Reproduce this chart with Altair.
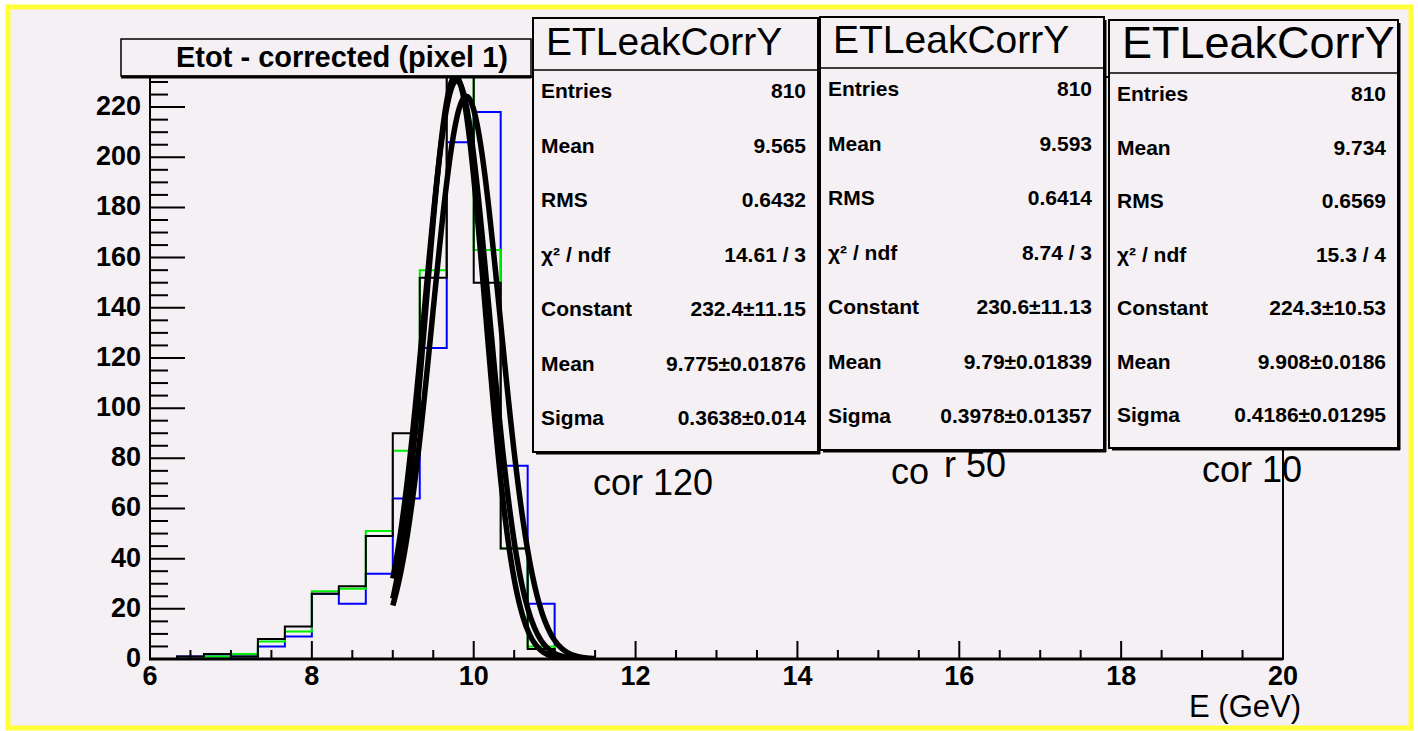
import altair as alt
import numpy as np
import pandas as pd

# ---------------------------------------------------------------------------
# Histogram definition: 42 bins of 1/3 GeV over 6-20 GeV
# ---------------------------------------------------------------------------
x_lo, x_hi, n_bins = 6.0, 20.0, 42
y_max = 232.0

# bin contents from 6.0 GeV upward (every later bin is empty)
counts_cor120 = [0, 1, 2, 1, 8, 13, 26, 29, 49, 90, 152, 241, 150, 44, 4, 0]
counts_cor50 = [0, 0, 1, 2, 7, 11, 27, 28, 51, 83, 155, 233, 163, 44, 5, 0]
counts_cor10 = [0, 1, 1, 1, 5, 9, 26, 22, 34, 64, 124, 206, 218, 77, 22, 0]

series_names = ["cor 120", "cor 50", "cor 10"]
series_colors = ["#000000", "#00ee00", "#0000ff"]

# statistics and gaussian fit results, one entry per histogram
entries = [810, 810, 810]
hist_mean = ["9.565", "9.593", "9.734"]
hist_rms = ["0.6432", "0.6414", "0.6569"]
chi2_ndf = ["14.61 / 3", "8.74 / 3", "15.3 / 4"]
fit_const = [232.4, 230.6, 224.3]
fit_const_err = ["11.15", "11.13", "10.53"]
fit_mean = [9.775, 9.79, 9.908]
fit_mean_err = ["0.01876", "0.01839", "0.0186"]
fit_sigma = [0.3638, 0.3978, 0.4186]
fit_sigma_err = ["0.014", "0.01357", "0.01295"]
fit_range = [9.0, 11.5]

stat_labels = ["Entries", "Mean", "RMS", "χ² / ndf", "Constant", "Mean", "Sigma"]
stats_title = "ETLeakCorrY"
hist_title = "Etot - corrected (pixel 1)"
x_title = "E (GeV)"

x_major = list(range(6, 21, 2))
y_major = list(range(0, 221, 20))

# ---------------------------------------------------------------------------
# Canvas layout (pixels)
# ---------------------------------------------------------------------------
OX, OY = 150, 77          # top-left corner of the frame
W, H = 1133, 582          # frame size
CANVAS = "#f4f0f4"
FONT = "Liberation Sans"


def px(x):
    return x - OX


def py(y):
    return y - OY


one = pd.DataFrame({"k": [0]})
xs = alt.Scale(domain=[x_lo, x_hi], nice=False, zero=False)
ys = alt.Scale(domain=[0, y_max], nice=False, zero=False)

# ---------------------------------------------------------------------------
# Data tables
# ---------------------------------------------------------------------------
bw = (x_hi - x_lo) / n_bins
hist_rows = []
for name, counts in zip(series_names, [counts_cor120, counts_cor50, counts_cor10]):
    full = counts + [0] * (n_bins - len(counts))
    for i, c in enumerate(full):
        hist_rows.append({"series": name, "edge": x_lo + i * bw, "n": c, "o": i})
    hist_rows.append({"series": name, "edge": x_hi, "n": 0, "o": n_bins})
hist_df = pd.DataFrame(hist_rows)

fit_rows = []
grid = np.linspace(fit_range[0], fit_range[1], 251)
for name, c, m, s in zip(series_names, fit_const, fit_mean, fit_sigma):
    for j, x in enumerate(grid):
        fit_rows.append({"series": name, "x": x, "f": c * np.exp(-0.5 * ((x - m) / s) ** 2), "o": j})
fit_df = pd.DataFrame(fit_rows)

x_minor = [v / 2 for v in range(12, 41) if v % 4 != 0]
y_minor = [v for v in range(0, 231, 5) if v % 20 != 0]

# ---------------------------------------------------------------------------
# Layers
# ---------------------------------------------------------------------------
layers = []

# canvas with yellow border
layers.append(
    alt.Chart(one).mark_rect(fill=CANVAS, stroke="#ffff3a", strokeWidth=5).encode(
        x=alt.value(px(8)), x2=alt.value(px(1411)), y=alt.value(py(7)), y2=alt.value(py(728))
    )
)

# histograms (drawn blue, green, black)
for name, color in list(zip(series_names, series_colors))[::-1]:
    layers.append(
        alt.Chart(hist_df[hist_df.series == name])
        .mark_line(interpolate="step-after", color=color, strokeWidth=2, clip=True)
        .encode(
            x=alt.X("edge:Q", scale=xs, axis=None),
            y=alt.Y("n:Q", scale=ys, axis=None),
            order="o:Q",
        )
    )

# gaussian fits
for name in series_names:
    layers.append(
        alt.Chart(fit_df[fit_df.series == name])
        .mark_line(color="black", strokeWidth=5.5, clip=True)
        .encode(
            x=alt.X("x:Q", scale=xs, axis=None),
            y=alt.Y("f:Q", scale=ys, axis=None),
            order="o:Q",
        )
    )

# frame
layers.append(
    alt.Chart(one).mark_rect(fillOpacity=0, stroke="black", strokeWidth=2).encode(
        x=alt.value(0), x2=alt.value(W), y=alt.value(0), y2=alt.value(H)
    )
)
layers.append(
    alt.Chart(one).mark_rule(color="black", strokeWidth=3).encode(
        x=alt.value(-1), x2=alt.value(W), y=alt.value(H), y2=alt.value(H)
    )
)

# inward ticks
layers.append(
    alt.Chart(pd.DataFrame({"v": x_major})).mark_rule(color="black", strokeWidth=2).encode(
        x=alt.X("v:Q", scale=xs, axis=None), y=alt.value(H), y2=alt.value(H - 18)
    )
)
layers.append(
    alt.Chart(pd.DataFrame({"v": x_minor})).mark_rule(color="black", strokeWidth=2).encode(
        x=alt.X("v:Q", scale=xs, axis=None), y=alt.value(H), y2=alt.value(H - 9)
    )
)
layers.append(
    alt.Chart(pd.DataFrame({"v": y_major})).mark_rule(color="black", strokeWidth=2).encode(
        y=alt.Y("v:Q", scale=ys, axis=None), x=alt.value(0), x2=alt.value(35)
    )
)
layers.append(
    alt.Chart(pd.DataFrame({"v": y_minor})).mark_rule(color="black", strokeWidth=2).encode(
        y=alt.Y("v:Q", scale=ys, axis=None), x=alt.value(0), x2=alt.value(18)
    )
)

# tick labels
layers.append(
    alt.Chart(pd.DataFrame({"v": x_major})).mark_text(
        font=FONT, fontSize=27, fontWeight="bold", align="center", baseline="top", color="black"
    ).encode(x=alt.X("v:Q", scale=xs, axis=None), y=alt.value(H + 5), text=alt.Text("v:Q", format="d"))
)
layers.append(
    alt.Chart(pd.DataFrame({"v": y_major})).mark_text(
        font=FONT, fontSize=27, fontWeight="bold", align="right", baseline="middle", color="black"
    ).encode(y=alt.Y("v:Q", scale=ys, axis=None), x=alt.value(-9), text=alt.Text("v:Q", format="d"))
)

# x axis title
layers.append(
    alt.Chart(one).mark_text(
        text=x_title, font=FONT, fontSize=31, align="right", baseline="alphabetic", color="black"
    ).encode(x=alt.value(px(1301)), y=alt.value(py(717)))
)

# histogram title box
layers.append(
    alt.Chart(one).mark_rect(fill=CANVAS, stroke="black", strokeWidth=1.5).encode(
        x=alt.value(px(121)), x2=alt.value(px(531)), y=alt.value(py(39)), y2=alt.value(py(76))
    )
)
layers.append(
    alt.Chart(one).mark_rule(color="black", strokeWidth=3).encode(
        x=alt.value(px(121)), x2=alt.value(px(531)), y=alt.value(py(77)), y2=alt.value(py(77))
    )
)
layers.append(
    alt.Chart(one).mark_text(
        text=hist_title, font=FONT, fontSize=29, fontWeight="bold", align="center",
        baseline="alphabetic", color="black"
    ).encode(x=alt.value(px(342)), y=alt.value(py(67)))
)

# statistics boxes: (left, right, top, divider, bottom, title size)
boxes = [
    (533, 818, 18, 70, 452, 39),
    (820, 1104, 17, 68, 450, 39),
    (1109, 1398, 20, 73, 448, 45),
]
for i, (x0, x1, y0, yd, y1, tsize) in enumerate(boxes):
    layers.append(
        alt.Chart(one).mark_rect(fill=CANVAS, stroke="black", strokeWidth=2).encode(
            x=alt.value(px(x0)), x2=alt.value(px(x1)), y=alt.value(py(y0)), y2=alt.value(py(y1))
        )
    )
    # shadow on the right and bottom edges
    layers.append(
        alt.Chart(one).mark_rule(color="black", strokeWidth=3).encode(
            x=alt.value(px(x1 + 1)), x2=alt.value(px(x1 + 1)), y=alt.value(py(y0 + 3)), y2=alt.value(py(y1 + 2))
        )
    )
    layers.append(
        alt.Chart(one).mark_rule(color="black", strokeWidth=3).encode(
            x=alt.value(px(x0 + 3)), x2=alt.value(px(x1 + 2)), y=alt.value(py(y1 + 1)), y2=alt.value(py(y1 + 1))
        )
    )
    layers.append(
        alt.Chart(one).mark_rule(color="black", strokeWidth=1.5).encode(
            x=alt.value(px(x0)), x2=alt.value(px(x1)), y=alt.value(py(yd)), y2=alt.value(py(yd))
        )
    )
    layers.append(
        alt.Chart(one).mark_text(
            text=stats_title, font=FONT, fontSize=tsize, align="left", baseline="alphabetic", color="black"
        ).encode(x=alt.value(px(x0 + 13)), y=alt.value(py(yd - 15)))
    )
    values = [
        str(entries[i]),
        hist_mean[i],
        hist_rms[i],
        chi2_ndf[i],
        f"{fit_const[i]}±{fit_const_err[i]}",
        f"{fit_mean[i]}±{fit_mean_err[i]}",
        f"{fit_sigma[i]}±{fit_sigma_err[i]}",
    ]
    step = (y1 - yd) / 7
    first = yd + 22
    layers.append(
        alt.Chart(one).mark_text(
            text="\n".join(stat_labels), lineBreak="\n", lineHeight=step, font=FONT, fontSize=21,
            fontWeight="bold", align="left", baseline="middle", color="black"
        ).encode(x=alt.value(px(x0 + 8)), y=alt.value(py(first)))
    )
    layers.append(
        alt.Chart(one).mark_text(
            text="\n".join(values), lineBreak="\n", lineHeight=step, font=FONT, fontSize=21,
            fontWeight="bold", align="right", baseline="middle", color="black"
        ).encode(x=alt.value(px(x1 - 12)), y=alt.value(py(first)))
    )

# series captions below the statistics boxes
layers.append(
    alt.Chart(one).mark_text(
        text=series_names[0], font=FONT, fontSize=36, align="left", baseline="alphabetic", color="black"
    ).encode(x=alt.value(px(593)), y=alt.value(py(495)))
)
layers.append(
    alt.Chart(one).mark_text(
        text=series_names[1][:2], font=FONT, fontSize=36, align="left", baseline="alphabetic", color="black"
    ).encode(x=alt.value(px(891)), y=alt.value(py(484)))
)
layers.append(
    alt.Chart(one).mark_text(
        text=series_names[1][2:], font=FONT, fontSize=36, align="left", baseline="alphabetic", color="black"
    ).encode(x=alt.value(px(944)), y=alt.value(py(477)))
)
layers.append(
    alt.Chart(one).mark_text(
        text=series_names[2], font=FONT, fontSize=36, align="left", baseline="alphabetic", color="black"
    ).encode(x=alt.value(px(1202)), y=alt.value(py(482)))
)
# right edge of the frame passes over the last caption
layers.append(
    alt.Chart(one).mark_rule(color="black", strokeWidth=2).encode(
        x=alt.value(W), x2=alt.value(W), y=alt.value(py(452)), y2=alt.value(H)
    )
)

chart = (
    alt.layer(*layers)
    .properties(
        width=W,
        height=H,
        padding={"left": OX, "top": OY, "right": 1418 - OX - W, "bottom": 731 - OY - H},
        autosize=alt.AutoSizeParams(type="none"),
        background="white",
    )
    .configure_view(strokeWidth=0)
)

chart.save("out.html", embed_options={"renderer": "svg", "actions": False})
